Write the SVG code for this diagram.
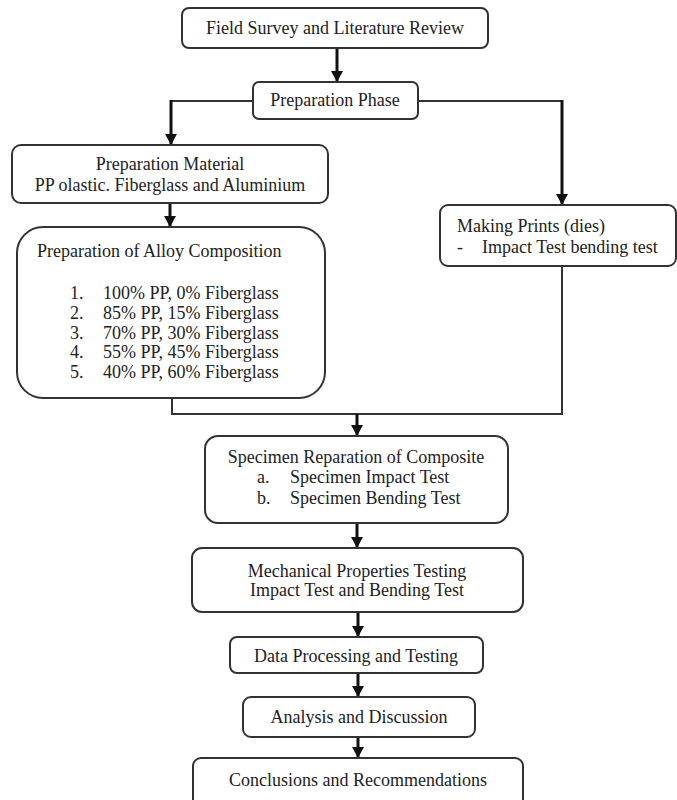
<svg xmlns="http://www.w3.org/2000/svg" width="677" height="800" viewBox="0 0 677 800">
<defs>
<style>
.box{fill:#fff;stroke:#333;stroke-width:2}
.t{font-family:"Liberation Serif","Times New Roman",serif;font-size:18px;fill:#222}
.c{text-anchor:middle}
.ln{fill:none;stroke:#333;stroke-width:2}
.ar{fill:none;stroke:#111;stroke-width:3}
</style>
<marker id="ah" markerUnits="userSpaceOnUse" markerWidth="12" markerHeight="12" refX="6" refY="11" orient="auto-start-reverse" viewBox="0 0 12 12">
<path d="M0,0 L12,0 L6,11 Z" fill="#111" transform="rotate(0)"/>
</marker>
<marker id="a" markerUnits="userSpaceOnUse" markerWidth="12" markerHeight="12" refX="11" refY="6" orient="auto" viewBox="0 0 12 12">
<path d="M0,0 L11,6 L0,12 Z" fill="#111"/>
</marker>
</defs>
<rect width="677" height="800" fill="#fff"/>
<g id="connectors">
<line class="ar" x1="337" y1="48" x2="337" y2="82" marker-end="url(#a)"/>
<polyline class="ln" points="253,101 171,101"/>
<line class="ar" x1="171" y1="100" x2="171" y2="145" marker-end="url(#a)"/>
<polyline class="ln" points="418,101 562,101"/>
<line class="ar" x1="562" y1="100" x2="562" y2="205" marker-end="url(#a)"/>
<line class="ar" x1="170" y1="203" x2="170" y2="227" marker-end="url(#a)"/>
<polyline class="ln" points="172,398 172,414 562,414 562,266"/>
<line class="ar" x1="357" y1="414" x2="357" y2="436" marker-end="url(#a)"/>
<line class="ar" x1="357" y1="523" x2="357" y2="548" marker-end="url(#a)"/>
<line class="ar" x1="358" y1="612" x2="358" y2="637" marker-end="url(#a)"/>
<line class="ar" x1="358" y1="673" x2="358" y2="697" marker-end="url(#a)"/>
<line class="ar" x1="358" y1="737" x2="358" y2="758" marker-end="url(#a)"/>
</g>
<g id="n1">
<rect class="box" x="182" y="8" width="306" height="40" rx="7"/>
<text class="t c" x="335" y="34">Field Survey and Literature Review</text>
</g>
<g id="n2">
<rect class="box" x="253" y="82" width="165" height="37" rx="6"/>
<text class="t c" x="335" y="106">Preparation Phase</text>
</g>
<g id="n3">
<rect class="box" x="12" y="145" width="316" height="58" rx="9"/>
<text class="t c" x="170" y="170">Preparation Material</text>
<text class="t c" x="170" y="191">PP olastic. Fiberglass and Aluminium</text>
</g>
<g id="n4">
<rect class="box" x="17" y="227" width="308" height="171" rx="26"/>
<text class="t" x="37" y="257">Preparation of Alloy Composition</text>
<text class="t" x="70" y="299">1.</text><text class="t" x="103" y="299">100% PP, 0% Fiberglass</text>
<text class="t" x="70" y="319">2.</text><text class="t" x="103" y="319">85% PP, 15% Fiberglass</text>
<text class="t" x="70" y="339">3.</text><text class="t" x="103" y="339">70% PP, 30% Fiberglass</text>
<text class="t" x="70" y="358">4.</text><text class="t" x="103" y="358">55% PP, 45% Fiberglass</text>
<text class="t" x="70" y="378">5.</text><text class="t" x="103" y="378">40% PP, 60% Fiberglass</text>
</g>
<g id="n5">
<rect class="box" x="440" y="205" width="236" height="61" rx="8"/>
<text class="t" x="457" y="232">Making Prints (dies)</text>
<text class="t" x="457" y="253">-</text><text class="t" x="482" y="253">Impact Test bending test</text>
</g>
<g id="n6">
<rect class="box" x="205" y="436" width="303" height="87" rx="13"/>
<text class="t c" x="356" y="463">Specimen Reparation of Composite</text>
<text class="t" x="257" y="483">a.</text><text class="t" x="290" y="483">Specimen Impact Test</text>
<text class="t" x="257" y="504">b.</text><text class="t" x="290" y="504">Specimen Bending Test</text>
</g>
<g id="n7">
<rect class="box" x="192" y="548" width="331" height="64" rx="10"/>
<text class="t c" x="357" y="577">Mechanical Properties Testing</text>
<text class="t c" x="357" y="596">Impact Test and Bending Test</text>
</g>
<g id="n8">
<rect class="box" x="230" y="637" width="253" height="36" rx="7"/>
<text class="t c" x="356" y="662">Data Processing and Testing</text>
</g>
<g id="n9">
<rect class="box" x="243" y="697" width="232" height="40" rx="8"/>
<text class="t c" x="359" y="723">Analysis and Discussion</text>
</g>
<g id="n10">
<rect class="box" x="193" y="758" width="330" height="52" rx="8"/>
<text class="t c" x="358" y="786">Conclusions and Recommendations</text>
</g>
</svg>
